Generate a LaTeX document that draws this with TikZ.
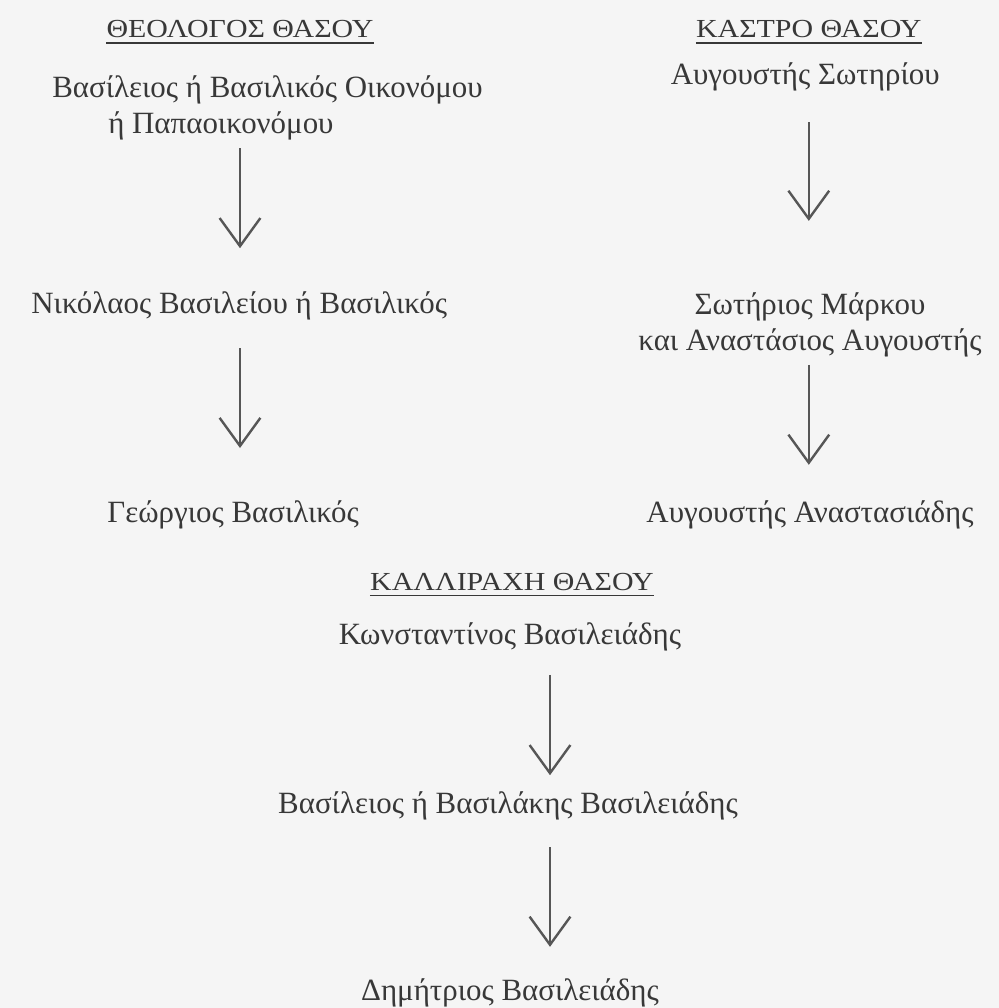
\documentclass[tikz,border=0pt]{standalone}
\usepackage{fontspec}
\setmainfont{Liberation Serif}
\newfontfamily\titlefont[FakeStretch=1.15]{Liberation Serif}
\usetikzlibrary{arrows.meta,positioning}
\definecolor{ink}{HTML}{383838}
\definecolor{paper}{HTML}{F5F5F5}

\begin{document}
\begin{tikzpicture}
[person/.style={text=ink,inner sep=0pt,font=\fontsize{22}{25.5}\selectfont},
 village/.style={text=ink,inner sep=0pt,font=\titlefont\fontsize{18.5}{22}\selectfont},
 uline/.style={draw=ink,line width=1.2pt},
 down/.style={draw=ink!85,line width=1.7pt,-{Straight Barb[length=20pt,width=29pt,line width=1.7pt]}}]
\fill[paper] (0,0) rectangle (24.975,-25.2);
\useasboundingbox (0,0) rectangle (24.975,-25.2);

% Theologos
\node[village,anchor=base] (theo) at (6.0,-0.93) {ΘΕΟΛΟΓΟΣ ΘΑΣΟΥ};
\node[person,anchor=base west,align=left] (vas) at (1.3,-3.33) {Βασίλειος ή Βασιλικός Οικονόμου\\\hspace*{1.4cm}ή Παπαοικονόμου};
\node[person,anchor=base] (nik) at (5.98,-7.83) {Νικόλαος Βασιλείου ή Βασιλικός};
\node[person,anchor=base] (geo) at (5.83,-13.05) {Γεώργιος Βασιλικός};

% Kastro
\node[village,anchor=base] (kas) at (20.22,-0.93) {ΚΑΣΤΡΟ ΘΑΣΟΥ};
\node[person,anchor=base] (avg) at (20.13,-2.1) {Αυγουστής Σωτηρίου};
\node[person,anchor=base,align=center] (sot) at (20.25,-8.75) {Σωτήριος Μάρκου\\και Αναστάσιος Αυγουστής};
\node[person,anchor=base] (ana) at (20.25,-13.05) {Αυγουστής Αναστασιάδης};

% Kallirachi
\node[village,anchor=base] (kal) at (12.8,-14.75) {ΚΑΛΛΙΡΑΧΗ ΘΑΣΟΥ};
\node[person,anchor=base] (kon) at (12.75,-16.12) {Κωνσταντίνος Βασιλειάδης};
\node[person,anchor=base] (vasb) at (12.7,-20.33) {Βασίλειος ή Βασιλάκης Βασιλειάδης};
\node[person,anchor=base] (dim) at (12.75,-25.0) {Δημήτριος Βασιλειάδης};
\coordinate (cline) at ([xshift=0.95cm]kal.base);

\foreach \t in {theo,kas,kal}
  \draw[uline] ([yshift=-4pt]\t.base west) -- ([yshift=-4pt]\t.base east);

\draw[down,shorten <=0.2cm,shorten >=1.625cm] (vas.south -| theo) -- (nik.base -| theo);
\draw[down,shorten <=0.875cm,shorten >=1.85cm] (nik.base -| theo) -- (geo.base -| theo);
\draw[down,shorten <=0.95cm,shorten >=1.78cm] (avg.base -| kas) -- (sot.north -| kas);
\draw[down,shorten <=0.2cm,shorten >=1.43cm] (sot.south -| kas) -- (ana.base -| kas);
\draw[down,shorten <=0.75cm,shorten >=0.95cm] (kon.base -| cline) -- (vasb.base -| cline);
\draw[down,shorten <=0.85cm,shorten >=1.33cm] (vasb.base -| cline) -- (dim.base -| cline);
\end{tikzpicture}
\end{document}
